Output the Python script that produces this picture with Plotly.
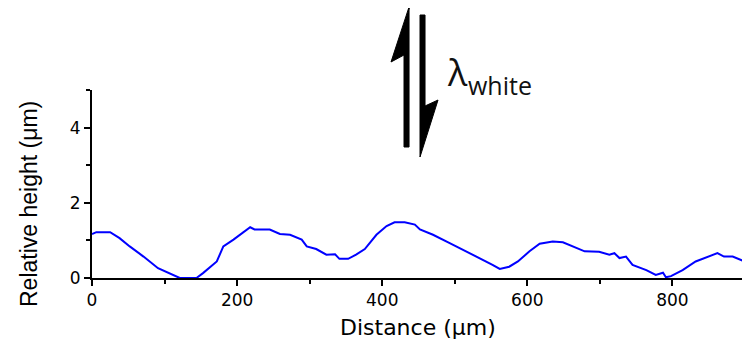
import plotly.graph_objects as go

# Profile data
distance_um = [0, 6, 25, 38, 52, 71, 91, 107, 121, 144, 153, 172, 181, 195, 208, 218, 224, 245,
               259, 273, 289, 296, 309, 323, 335, 341, 353, 364, 376, 392, 406, 417, 431, 445,
               452, 470, 493, 516, 534, 552, 562, 575, 587, 603, 617, 635, 649, 663, 679, 699,
               713, 720, 727, 736, 745, 764, 777, 787, 791, 798, 814, 832, 851, 862, 871, 883,
               897, 900]
height_um = [1.17, 1.22, 1.22, 1.06, 0.84, 0.57, 0.26, 0.13, 0.0, 0.0, 0.13, 0.44, 0.84, 1.02,
             1.20, 1.35, 1.29, 1.29, 1.17, 1.15, 1.02, 0.84, 0.77, 0.62, 0.63, 0.51, 0.51, 0.62,
             0.77, 1.15, 1.38, 1.48, 1.48, 1.42, 1.29, 1.15, 0.93, 0.71, 0.53, 0.35, 0.24, 0.30,
             0.44, 0.71, 0.91, 0.97, 0.95, 0.84, 0.71, 0.70, 0.62, 0.66, 0.53, 0.57, 0.35, 0.21,
             0.08, 0.14, 0.02, 0.05, 0.21, 0.44, 0.57, 0.66, 0.57, 0.57, 0.46, 0.44]

x_ticks = [0, 200, 400, 600, 800]
y_ticks = [0, 2, 4]
x_title = "Distance (\u03bcm)"
y_title = "Relative height (\u03bcm)"
lambda_label = "\u03bb"
lambda_sub = "white"

# page has an 8px body margin; the figure is placed at (8, 8)
OFF = 8
W, H = 750 - OFF, 347 - OFF
ML, MR, MT, MB = 92 - OFF, 5, 90 - OFF, 69
PW, PH = W - ML - MR, H - MT - MB


def px(xp, yp):
    """page pixel -> paper coords"""
    xf, yf = xp - OFF, yp - OFF
    return (xf - ML) / PW, (H - MB - yf) / PH


def poly(points):
    pts = [px(a, b) for a, b in points]
    return "M " + " L ".join(f"{a:.4f},{b:.4f}" for a, b in pts) + " Z"


fig = go.Figure()
fig.add_trace(go.Scatter(x=distance_um, y=height_um, mode="lines",
                         line=dict(color="#0000ff", width=2), showlegend=False))

axis_common = dict(showline=True, linecolor="black", linewidth=2, ticks="outside",
                   tickcolor="black", tickwidth=2, ticklen=6, showgrid=False, zeroline=False,
                   tickfont=dict(family="DejaVu Sans", size=17, color="black"))
fig.update_xaxes(range=[0, 900], tickvals=x_ticks, ticktext=[str(v) for v in x_ticks],
                 minor=dict(dtick=100, ticklen=4, tickwidth=2, tickcolor="black", ticks="outside"),
                 **axis_common)
fig.update_yaxes(range=[0, 5], tickvals=y_ticks, ticktext=[str(v) for v in y_ticks],
                 minor=dict(dtick=1, ticklen=4, tickwidth=2, tickcolor="black", ticks="outside"),
                 **axis_common)

# Arrows (harpoon shapes)
arrow_up = [(410, 4), (391, 62), (404, 55), (404, 147), (409, 147), (409, 10)]
arrow_down = [(420, 15), (425, 15), (425, 106), (438, 100), (420, 157)]
for a in (arrow_up, arrow_down):
    fig.add_shape(type="path", xref="paper", yref="paper", path=poly(a),
                  fillcolor="black", line=dict(color="black", width=1))

lx, ly = px(457, 72)
fig.add_annotation(xref="paper", yref="paper", x=lx, y=ly, text=lambda_label, showarrow=False,
                   font=dict(family="Open Sans", size=36, color="#111111"),
                   xanchor="center", yanchor="middle")
wx, wy = px(500, 85)
fig.add_annotation(xref="paper", yref="paper", x=wx, y=wy, text=lambda_sub, showarrow=False,
                   font=dict(family="Open Sans", size=25, color="#111111"),
                   xanchor="center", yanchor="middle")

tx, ty = px(418, 327)
fig.add_annotation(xref="paper", yref="paper", x=tx, y=ty, text=x_title, showarrow=False,
                   font=dict(family="DejaVu Sans", size=22, color="black"),
                   xanchor="center", yanchor="middle")
yx, yy = px(29, 204)
fig.add_annotation(xref="paper", yref="paper", x=yx, y=yy, text=y_title, showarrow=False,
                   textangle=-90,
                   font=dict(family="Liberation Sans, Arial", size=23, color="black"),
                   xanchor="center", yanchor="middle")

fig.update_layout(width=W, height=H, margin=dict(l=ML, r=MR, t=MT, b=MB, autoexpand=False),
                  plot_bgcolor="white", paper_bgcolor="white")

fig.write_html("out.html")
